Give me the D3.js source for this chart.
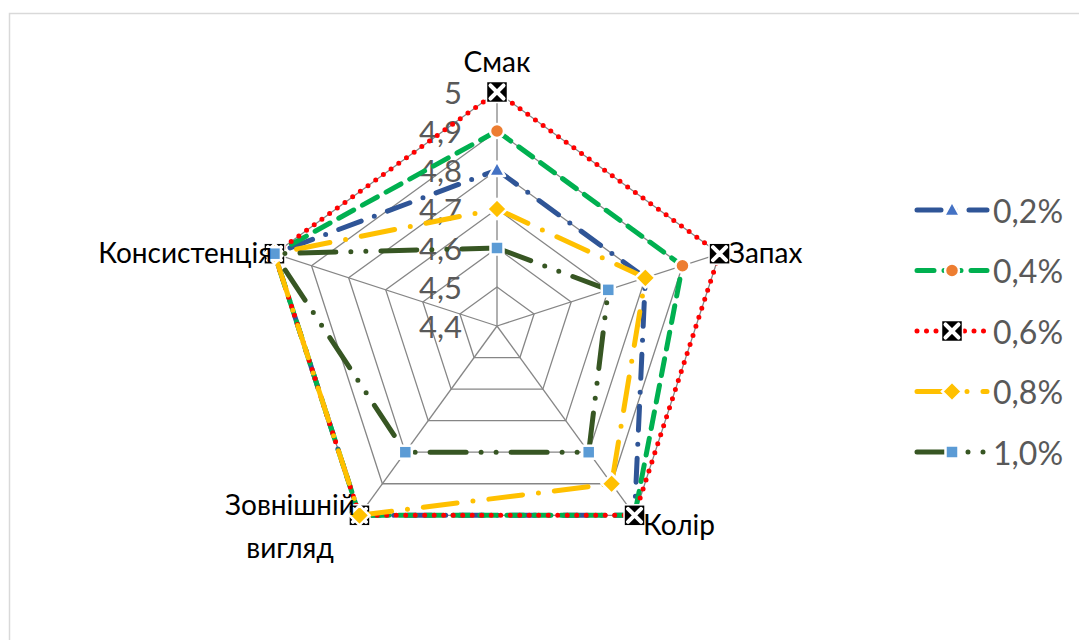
<!DOCTYPE html>
<html>
<head>
<meta charset="utf-8">
<script src="https://cdn.jsdelivr.net/npm/d3@7"></script>
<style>
  html, body { margin: 0; padding: 0; background: #fff; }
  svg { display: block; font-family: Lato, "Open Sans", sans-serif; }
</style>
</head>
<body>
<svg id="chart" width="1079" height="640"></svg>
<script>
// показники (осі радару)
const categories = ["Смак", "Запах", "Колір", "Зовнішній вигляд", "Консистенція"];
const seriesNames = ["0,2%", "0,4%", "0,6%", "0,8%", "1,0%"];
const values02 = [4.8, 4.8, 5.0, 5.0, 5.0];
const values04 = [4.9, 4.9, 5.0, 5.0, 5.0];
const values06 = [5.0, 5.0, 5.0, 5.0, 5.0];
const values08 = [4.7, 4.8, 4.9, 5.0, 5.0];
const values10 = [4.6, 4.7, 4.8, 4.8, 5.0];
const tickValues = [4.4, 4.5, 4.6, 4.7, 4.8, 4.9, 5.0];

const allValues = [values02, values04, values06, values08, values10];

// стилі серій (лінія + маркер)
const styles = [
  { stroke: "#2F5597", dash: "24,14,0,14", marker: "triangle", fill: "#4472C4" },
  { stroke: "#00B050", dash: "17,10", marker: "circle", fill: "#ED7D31" },
  { stroke: "#FF0000", dash: "0,9.5", marker: "xbox", fill: "#000" },
  { stroke: "#FFC000", dash: "34,16,0,16", marker: "diamond", fill: "#FFC000" },
  { stroke: "#375623", dash: "36,15,0,15,0,15", marker: "square", fill: "#5B9BD5" }
];

const svg = d3.select("#chart");

// рамка області діаграми
svg.append("rect")
  .attr("x", 9.5).attr("y", 13.5)
  .attr("width", 1100).attr("height", 700)
  .attr("fill", "#fff")
  .attr("stroke", "#d9d9d9")
  .attr("stroke-width", 1.5);

const cx = 497, cy = 326, R = 234;

const r = d3.scaleLinear().domain([4.4, 5.0]).range([0, R]);
const angle = d3.scaleLinear().domain([0, categories.length]).range([-Math.PI / 2, Math.PI * 1.5]);

const pt = (i, v) => [cx + r(v) * Math.cos(angle(i)), cy + r(v) * Math.sin(angle(i))];

const g = svg.append("g");

// сітка
tickValues.slice(1).forEach(t => {
  g.append("path")
    .attr("d", d3.line()(categories.map((c, i) => pt(i, t))) + "Z")
    .attr("fill", "none")
    .attr("stroke", "#868686")
    .attr("stroke-width", 1.3);
});
categories.forEach((c, i) => {
  g.append("line")
    .attr("x1", cx).attr("y1", cy)
    .attr("x2", pt(i, 5.0)[0]).attr("y2", pt(i, 5.0)[1])
    .attr("stroke", "#868686")
    .attr("stroke-width", 1.3);
});

// підписи шкали
g.selectAll(".tick-label")
  .data(tickValues)
  .join("text")
  .attr("class", "tick-label")
  .attr("x", cx - 35)
  .attr("y", d => cy - r(d))
  .attr("text-anchor", "end")
  .attr("dominant-baseline", "central")
  .attr("font-size", 31)
  .attr("fill", "#595959")
  .text(d => d3.format(".1f")(d).replace(".", ",").replace(",0", ""));

// підписи осей
const catLabels = [
  { x: cx, y: 61, anchor: "middle", lines: ["Смак"] },
  { x: 729, y: 252, anchor: "start", lines: ["Запах"] },
  { x: 643, y: 524, anchor: "start", lines: ["Колір"] },
  { x: 290, y: 504, anchor: "middle", lines: ["Зовнішній", "вигляд"] },
  { x: 272, y: 252, anchor: "end", lines: ["Консистенція"] }
];

function drawMarker(sel, type, fill) {
  if (type === "triangle") {
    sel.append("path").attr("d", "M0,-8.5L8,6L-8,6Z")
      .attr("fill", fill).attr("stroke", "#fff").attr("stroke-width", 2.5).attr("stroke-linejoin", "round");
  } else if (type === "circle") {
    sel.append("circle").attr("r", 7)
      .attr("fill", fill).attr("stroke", "#fff").attr("stroke-width", 2.5);
  } else if (type === "diamond") {
    sel.append("path").attr("d", "M0,-10L10,0L0,10L-10,0Z")
      .attr("fill", fill).attr("stroke", "#fff").attr("stroke-width", 2.5);
  } else if (type === "square") {
    sel.append("rect").attr("x", -6.5).attr("y", -6.5).attr("width", 13).attr("height", 13)
      .attr("fill", fill).attr("stroke", "#fff").attr("stroke-width", 2.5);
  } else if (type === "xbox") {
    const h = 10.5;
    sel.append("rect").attr("x", -h).attr("y", -h).attr("width", 2 * h).attr("height", 2 * h)
      .attr("fill", "#000").attr("stroke", "#fff").attr("stroke-width", 1.5);
    sel.append("path").attr("d", `M${-h * 0.62},${-h * 0.62}L${h * 0.62},${h * 0.62}M${h * 0.62},${-h * 0.62}L${-h * 0.62},${h * 0.62}`)
      .attr("stroke", "#fff").attr("stroke-width", 4).attr("stroke-linecap", "round");
  }
}

// серії
allValues.forEach((vals, si) => {
  const st = styles[si];
  const sg = g.append("g");
  const pts = vals.map((v, i) => pt(i, v));
  sg.append("path")
    .attr("d", d3.line()(pts) + "Z")
    .attr("fill", "none")
    .attr("stroke", st.stroke)
    .attr("stroke-width", 5)
    .attr("stroke-linecap", "round")
    .attr("stroke-linejoin", "round")
    .attr("stroke-dasharray", st.dash);
  pts.forEach(p => {
    const m = sg.append("g").attr("transform", `translate(${p[0]},${p[1]})`);
    drawMarker(m, st.marker, st.fill);
  });
});

catLabels.forEach(d => {
  const t = svg.append("text")
    .attr("x", d.x).attr("y", d.y)
    .attr("text-anchor", d.anchor)
    .attr("dominant-baseline", "central")
    .attr("font-size", 28)
    .attr("fill", "#000");
  d.lines.forEach((l, k) => {
    t.append("tspan").attr("x", d.x).attr("dy", k === 0 ? 0 : 43).text(l);
  });
});

// легенда
const legend = svg.append("g").attr("transform", "translate(917,210)");
seriesNames.forEach((name, si) => {
  const st = styles[si];
  const lg = legend.append("g").attr("transform", `translate(0,${si * 60.5})`);
  lg.append("line")
    .attr("x1", 0).attr("x2", 70)
    .attr("stroke", st.stroke)
    .attr("stroke-width", 5)
    .attr("stroke-linecap", "round")
    .attr("stroke-dasharray", st.dash);
  drawMarker(lg.append("g").attr("transform", "translate(35,0)"), st.marker, st.fill);
  lg.append("text")
    .attr("x", 76).attr("y", 0)
    .attr("dominant-baseline", "central")
    .attr("font-size", 32)
    .attr("fill", "#595959")
    .text(name);
});
</script>
</body>
</html>
